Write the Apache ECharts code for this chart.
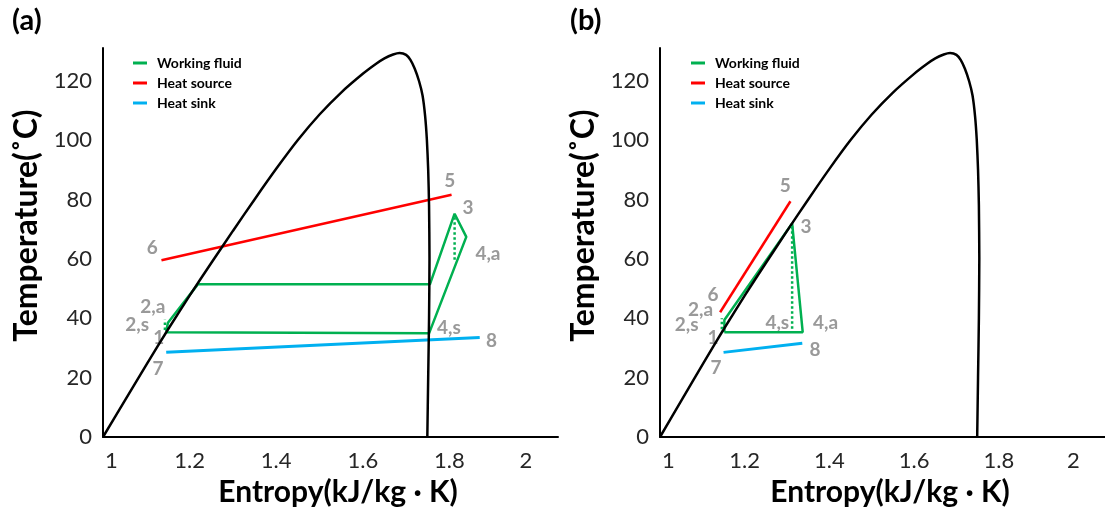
<!DOCTYPE html>
<html><head><meta charset="utf-8">
<script src="https://cdn.jsdelivr.net/npm/echarts@6/dist/echarts.min.js"></script>
<style>html,body{margin:0;padding:0;background:#fff}#c{width:1105px;height:512px}</style>
</head><body><div id="c"></div>
<script>
// ---- tick labels ----
const xTicks = [1, 1.2, 1.4, 1.6, 1.8, 2];
const yTicks = [0, 20, 40, 60, 80, 100, 120];
const legendNames = ['Working fluid', 'Heat source', 'Heat sink'];

// ---- saturation dome [entropy, temperature] ----
const dome = [[1.0,0],[1.05,12.2],[1.10,24.3],[1.15,36.2],[1.20,47.6],[1.25,58.6],[1.30,69.4],
  [1.35,80.0],[1.40,90.3],[1.45,100.0],[1.50,108.6],[1.55,116.0],[1.60,122.3],[1.63,125.6],
  [1.65,127.5],[1.67,128.8],[1.685,129.3],[1.70,128.7],[1.71,127.0],[1.72,124.0],[1.73,119.8],
  [1.738,115.0],[1.744,108.0],[1.748,100.0],[1.751,90.0],[1.753,78.0],[1.754,60.0],[1.753,40.0],
  [1.751,20.0],[1.749,0]];

// ---- panel (a) ----
const wfA = [[1.146,35.5],[1.150,38.5],[1.219,51.4],[1.755,51.4],[1.812,75.2],[1.839,67.4],[1.753,34.9],[1.146,35.3]];
const pumpIsenA = [[1.143,36.0],[1.143,39.5]];
const turbIsenA = [[1.812,74.0],[1.812,59.5]];
const sourceA = [[1.135,59.5],[1.805,81.6]];
const sinkA = [[1.146,28.5],[1.870,33.5]];
const labelsA = [[1.801,86.4,'5'],[1.843,77.1,'3'],[1.889,61.8,'4,a'],[1.799,36.8,'4,s'],[1.897,32.3,'8'],
  [1.114,63.7,'6'],[1.115,43.9,'2,a'],[1.079,37.9,'2,s'],[1.129,33.5,'1'],[1.127,22.9,'7']];

// ---- panel (b) ----
const wfB = [[1.152,35.3],[1.337,35.3],[1.312,71.9],[1.152,39.4],[1.152,35.3]];
const pumpIsenB = [[1.146,36.3],[1.146,40.0]];
const turbIsenB = [[1.312,71.0],[1.312,35.5]];
const sourceB = [[1.142,42.0],[1.308,79.4]];
const sinkB = [[1.150,28.5],[1.336,31.6]];
const labelsB = [[1.296,84.5,'5'],[1.345,70.7,'3'],[1.125,47.8,'6'],[1.096,42.7,'2,a'],[1.063,37.7,'2,s'],
  [1.125,33.5,'1'],[1.277,38.6,'4,s'],[1.391,38.6,'4,a'],[1.366,29.3,'8'],[1.132,23.4,'7']];

const FONT = 'Lato';
const GREEN = '#00b050', RED = '#ff0000', BLUE = '#00b0f0', GRAY = '#808080';

function xAxisFor(i) {
  return {
    type: 'value', gridIndex: i, min: 1, max: 2.0508,
    name: 'Entropy(kJ/kg · K)', nameLocation: 'middle', nameGap: 40,
    nameTextStyle: { fontFamily: FONT, fontWeight: 'bold', fontSize: 30, color: '#000', padding: [0,0,0,15] },
    axisLine: { lineStyle: { color: '#000', width: 2 } },
    axisTick: { show: false }, splitLine: { show: false },
    axisLabel: {
      customValues: xTicks, margin: 13, fontFamily: FONT, fontSize: 22, color: '#262626',
      formatter: v => v === 1 ? '{l|1}' : (v === 2 ? '{r|2}' : String(v)),
      rich: { l: { padding: [0,0,0,17], fontFamily: FONT, fontSize: 22, color: '#262626' },
              r: { padding: [0,20,0,0], fontFamily: FONT, fontSize: 22, color: '#262626' } }
    }
  };
}
function yAxisFor(i) {
  return {
    type: 'value', gridIndex: i, min: 0, max: 131,
    name: 'Temperature(˚C)', nameLocation: 'middle', nameGap: 60,
    nameTextStyle: { fontFamily: FONT, fontWeight: 'bold', fontSize: 32, color: '#000', padding: [0,0,0,34] },
    axisLine: { show: true, lineStyle: { color: '#000', width: 2 } },
    axisTick: { show: false }, splitLine: { show: false },
    axisLabel: { customValues: yTicks, margin: 11, fontFamily: FONT, fontSize: 22, color: '#262626' }
  };
}
function lineSeries(i, name, data, color, width, type) {
  return {
    type: 'line', name: name, xAxisIndex: i, yAxisIndex: i, data: data,
    showSymbol: false, symbol: 'none', animation: false, silent: true,
    itemStyle: { color: color },
    lineStyle: { color: color, width: width, type: type || 'solid' }
  };
}
function labelSeries(i, data) {
  return {
    type: 'scatter', name: 'labels' + i, xAxisIndex: i, yAxisIndex: i, data: data,
    symbolSize: 0, animation: false, silent: true,
    label: { show: true, position: 'inside', formatter: p => p.data[2],
             fontFamily: FONT, fontWeight: 'bold', fontSize: 19, color: GRAY }
  };
}
function panelSeries(i, wf, pump, turb, src, sink, labels) {
  return [
    lineSeries(i, 'Working fluid', wf, GREEN, 2.5),
    lineSeries(i, 'Heat source', src, RED, 2.5),
    lineSeries(i, 'Heat sink', sink, BLUE, 3),
    Object.assign(lineSeries(i, 'dome', dome, '#000', 2.5), { smooth: 0.2 }),
    lineSeries(i, 'Working fluid', pump, GREEN, 2.5, 'dotted'),
    lineSeries(i, 'Working fluid', turb, GREEN, 2.5, 'dotted'),
    labelSeries(i, labels)
  ];
}
function legendFor(left) {
  return {
    orient: 'vertical', left: left, top: 51, itemGap: 6, itemWidth: 14, itemHeight: 3,
    icon: 'rect', data: legendNames,
    textStyle: { fontFamily: FONT, fontWeight: 'bold', fontSize: 14, color: '#000', padding: [0,0,0,5] }
  };
}

const chart = echarts.init(document.getElementById('c'), null, { renderer: 'canvas' });
chart.setOption({
  backgroundColor: '#fff',
  animation: false,
  grid: [
    { left: 103, top: 48, width: 455, height: 391 },
    { left: 660, top: 48, width: 455, height: 391 }
  ],
  xAxis: [xAxisFor(0), xAxisFor(1)],
  yAxis: [yAxisFor(0), yAxisFor(1)],
  legend: [legendFor(128), legendFor(686)],
  graphic: [
    { type: 'text', left: 12, top: 6, style: { text: '(a)', fontFamily: FONT, fontWeight: 'bold', fontSize: 29, fill: '#000' } },
    { type: 'text', left: 570, top: 6, style: { text: '(b)', fontFamily: FONT, fontWeight: 'bold', fontSize: 29, fill: '#000' } }
  ],
  series: [].concat(
    panelSeries(0, wfA, pumpIsenA, turbIsenA, sourceA, sinkA, labelsA),
    panelSeries(1, wfB, pumpIsenB, turbIsenB, sourceB, sinkB, labelsB)
  )
});
</script></body></html>
